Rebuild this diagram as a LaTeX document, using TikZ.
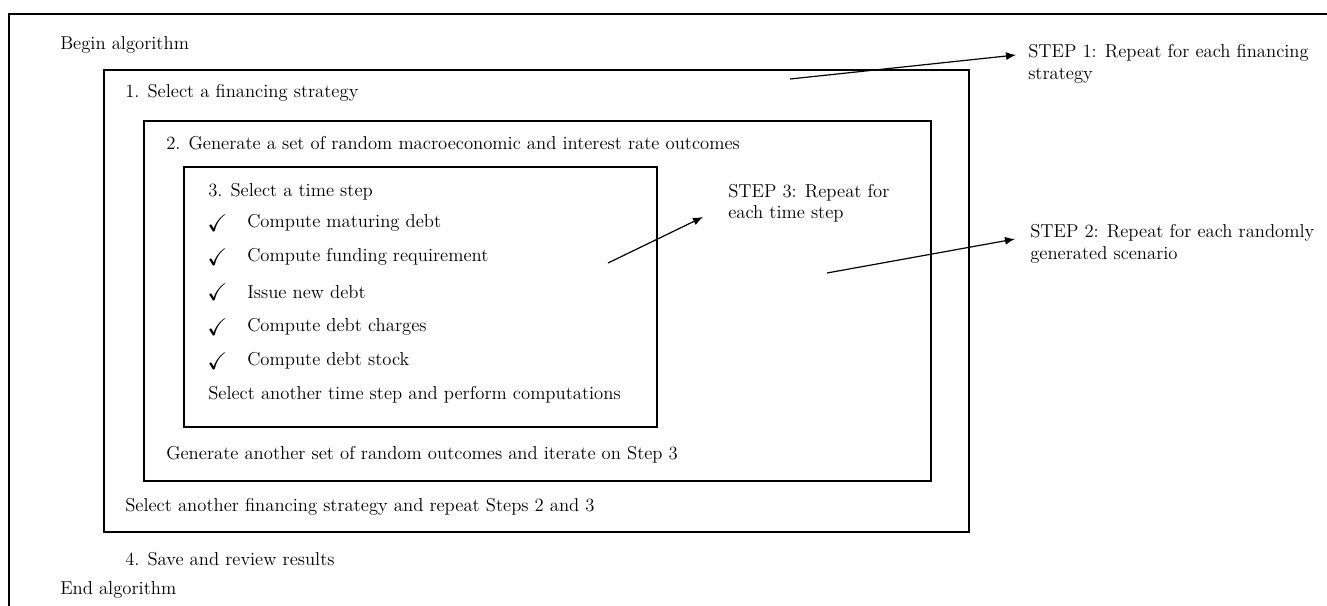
\documentclass[tikz,border=0pt]{standalone}
\usepackage{amssymb}
\usetikzlibrary{arrows.meta}

\begin{document}
\begin{tikzpicture}[x=0.75pt,y=-0.75pt,
    every node/.style={anchor=west,inner sep=0pt,font=\fontsize{14}{16}\selectfont},
    frame/.style={line width=1.1pt},
    pointer/.style={line width=0.9pt,-{Latex[length=7.5pt,width=6pt]}},
    tick/.style={font=\fontsize{18}{18}\selectfont},
    every text node part/.style={align=left}]
    \useasboundingbox (0,0) rectangle (1327,606);

    % nested loops
    \draw[frame] (1327,14) -- (9,14) -- (9,606);
    \draw[frame] (104,70) rectangle (969,532);
    \draw[frame] (144,121) rectangle (931,481);
    \draw[frame] (184,167) rectangle (657,427);

    \node (begin) at (60,45) {Begin algorithm};
    \node (strat) at (125,93) {1. Select a financing strategy};
    \node (gen) at (166,143) {2. Generate a set of random macroeconomic and interest rate outcomes};
    \node (time) at (208,192) {3. Select a time step};
    \foreach \yy/\txt in {223/Compute maturing debt,257/Compute funding requirement,292/Issue new debt,327/Compute debt charges,361/Compute debt stock}{
        \node[tick] (chk\yy) at (207,\yy) {$\checkmark$};
        \node (item\yy) at (247,\yy) {\txt};
    }
    \node (nexttime) at (208,395) {Select another time step and perform computations};
    \node (nextgen) at (166,455) {Generate another set of random outcomes and iterate on Step 3};
    \node (nextstrat) at (125,507) {Select another financing strategy and repeat Steps 2 and 3};
    \node (save) at (125,559) {4. Save and review results};
    \node (finish) at (60,590) {End algorithm};

    % loop labels
    \node (step1) at (1028,64) {STEP 1: Repeat for each financing\\strategy};
    \node (step2) at (1030,244) {STEP 2: Repeat for each randomly\\generated scenario};
    \node (step3) at (728,203) {STEP 3: Repeat for\\each time step};

    \coordinate (a1) at (790,79);
    \coordinate (b1) at (1016,55);
    \coordinate (a2) at (827,273);
    \coordinate (b2) at (1015,239);
    \coordinate (a3) at (608,263);
    \coordinate (b3) at (703,217);
    \draw[pointer] (a1) -- (b1);
    \draw[pointer] (a2) -- (b2);
    \draw[pointer] (a3) -- (b3);
\end{tikzpicture}
\end{document}
